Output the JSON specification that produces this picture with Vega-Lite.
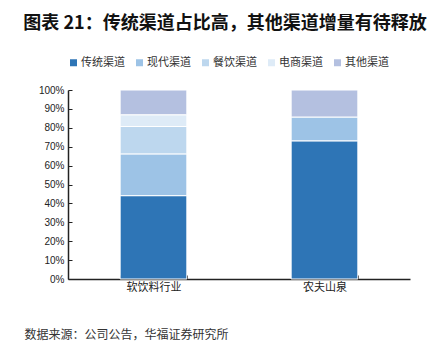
{
  "$schema": "https://vega.github.io/schema/vega-lite/v6.json",
  "width": 342,
  "height": 189,
  "autosize": "none",
  "padding": {"left": 68, "top": 90, "right": 32, "bottom": 73},
  "background": "white",
  "title": {
    "text": "图表 21：传统渠道占比高，其他渠道增量有待释放",
    "font": "Noto Sans CJK SC",
    "fontSize": 18,
    "fontWeight": "bold",
    "color": "#111111",
    "anchor": "middle",
    "frame": "group",
    "dx": -14,
    "offset": 24
  },
  "data": {
    "values": [
      {"cat": "软饮料行业", "ch": "传统渠道", "i": 1, "v": 44.1},
      {"cat": "软饮料行业", "ch": "现代渠道", "i": 2, "v": 22.1},
      {"cat": "软饮料行业", "ch": "餐饮渠道", "i": 3, "v": 14.5},
      {"cat": "软饮料行业", "ch": "电商渠道", "i": 4, "v": 6.2},
      {"cat": "软饮料行业", "ch": "其他渠道", "i": 5, "v": 13.1},
      {"cat": "农夫山泉", "ch": "传统渠道", "i": 1, "v": 73.1},
      {"cat": "农夫山泉", "ch": "现代渠道", "i": 2, "v": 12.6},
      {"cat": "农夫山泉", "ch": "其他渠道", "i": 5, "v": 14.3}
    ]
  },
  "mark": {"type": "bar", "stroke": "white", "strokeWidth": 1},
  "encoding": {
    "x": {
      "field": "cat",
      "type": "nominal",
      "sort": ["软饮料行业", "农夫山泉"],
      "scale": {"paddingInner": 0.61, "paddingOuter": 0.305},
      "axis": {
        "title": "数据来源：公司公告，华福证券研究所",
        "titleFont": "Noto Sans CJK SC",
        "titleFontSize": 12,
        "titleFontWeight": "normal",
        "titleColor": "#333333",
        "titleAnchor": "start",
        "titleAlign": "left",
        "titleX": -44,
        "titleY": 50,
        "labelAngle": 0,
        "labelFont": "Noto Sans CJK SC",
        "labelFontSize": 11,
        "labelColor": "#222222",
        "labelPadding": 6,
        "tickBand": "extent",
        "tickSize": -4,
        "tickColor": "#222222",
        "domainColor": "#222222",
        "domainWidth": 1.5
      }
    },
    "y": {
      "field": "v",
      "type": "quantitative",
      "stack": "zero",
      "scale": {"domain": [0, 100]},
      "axis": {
        "title": null,
        "values": [0, 10, 20, 30, 40, 50, 60, 70, 80, 90, 100],
        "labelExpr": "datum.value + '%'",
        "labelFont": "Liberation Sans",
        "labelFontSize": 10,
        "labelColor": "#222222",
        "labelPadding": 8,
        "tickSize": -4,
        "tickColor": "#222222",
        "domainColor": "#222222",
        "domainWidth": 1.5,
        "grid": false
      }
    },
    "color": {
      "field": "ch",
      "type": "nominal",
      "scale": {
        "domain": ["传统渠道", "现代渠道", "餐饮渠道", "电商渠道", "其他渠道"],
        "range": ["#2E75B6", "#9DC3E6", "#BDD7EE", "#DEEBF7", "#B4C0E0"]
      },
      "legend": {
        "title": null,
        "orient": "top",
        "direction": "horizontal",
        "symbolType": "square",
        "symbolSize": 49,
        "symbolStrokeWidth": 0,
        "labelFont": "Noto Sans CJK SC",
        "labelFontSize": 11,
        "labelColor": "#333333",
        "labelOffset": 2,
        "columnPadding": 9,
        "offset": 22
      }
    },
    "order": {"field": "i", "type": "quantitative"}
  },
  "config": {"view": {"stroke": null}}
}
